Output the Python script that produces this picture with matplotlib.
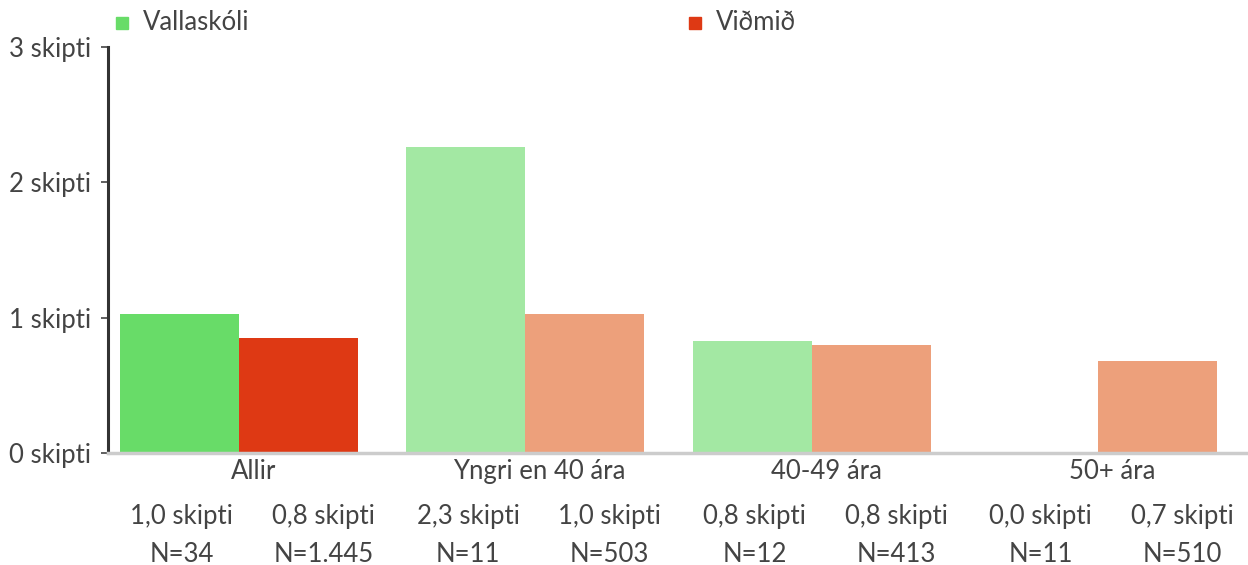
import matplotlib.pyplot as plt
from matplotlib.patches import Rectangle
import numpy as np

plt.rcParams['font.family'] = ['Lato', 'DejaVu Sans']

categories = ['Allir', 'Yngri en 40 ára', '40-49 ára', '50+ ára']
school = [1.03, 2.26, 0.83, 0.0]
norm = [0.85, 1.03, 0.80, 0.68]
school_labels = ['1,0 skipti', '2,3 skipti', '0,8 skipti', '0,0 skipti']
norm_labels = ['0,8 skipti', '1,0 skipti', '0,8 skipti', '0,7 skipti']
school_n = ['N=34', 'N=11', 'N=12', 'N=11']
norm_n = ['N=1.445', 'N=503', 'N=413', 'N=510']
school_colors = ['#68dc68', '#a3e8a3', '#a3e8a3', '#a3e8a3']
norm_colors = ['#de3914', '#eda07b', '#eda07b', '#eda07b']
text_color = '#444444'
fs = 18.5

fig = plt.figure(figsize=(12.48, 5.65), dpi=100)
ax = fig.add_axes([108 / 1248, 112 / 565, 1 - 108 / 1248, 406 / 565])

x = np.arange(len(categories))
w = 0.4157
ax.bar(x - w / 2, school, w, color=school_colors)
ax.bar(x + w / 2, norm, w, color=norm_colors)

ax.set_xlim(-0.4576, 3.524)
ax.set_ylim(0, 3)
ax.set_yticks([0, 1, 2, 3])
ax.set_yticklabels([f'{i} skipti' for i in range(4)], fontsize=fs, color=text_color)
ax.tick_params(axis='y', length=5, width=1.2, color=text_color, pad=7)
ax.set_xticks([])

for s in ['top', 'right']:
    ax.spines[s].set_visible(False)
ax.spines['left'].set_color('#333333')
ax.spines['left'].set_linewidth(2.2)
ax.spines['bottom'].set_color('#cccccc')
ax.spines['bottom'].set_linewidth(2.5)

# labels under the axis sit in two columns per group, slightly right of the bars
trans = ax.get_xaxis_transform()
for i in range(len(categories)):
    ax.text(x[i] + 0.05, -0.045, categories[i], transform=trans, ha='center', va='center',
            fontsize=fs, color=text_color)
    for dx, lab, n in [(-0.20, school_labels[i], school_n[i]), (0.295, norm_labels[i], norm_n[i])]:
        ax.text(x[i] + dx, -0.157, lab, transform=trans, ha='center', va='center',
                fontsize=fs, color=text_color)
        ax.text(x[i] + dx, -0.25, n, transform=trans, ha='center', va='center',
                fontsize=fs, color=text_color)

# legend
for px, col, lab in [(116, school_colors[0], 'Vallaskóli'), (689, norm_colors[0], 'Viðmið')]:
    fig.patches.append(Rectangle((px / 1248, 1 - 29 / 565), 12 / 1248, 12 / 565,
                                 transform=fig.transFigure, color=col))
    fig.text((px + 27) / 1248, 1 - 22 / 565, lab, ha='left', va='center',
             fontsize=fs, color=text_color)

fig.savefig('out.png', dpi=100)
